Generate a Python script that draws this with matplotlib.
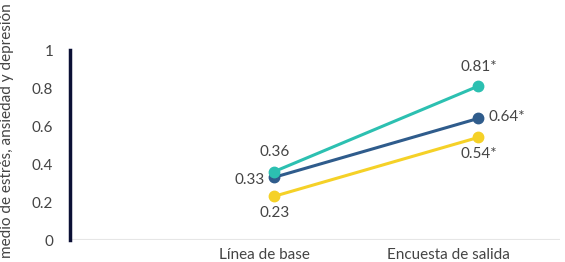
import matplotlib.pyplot as plt

plt.rcParams['font.family'] = ['Lato', 'DejaVu Sans']

# datos
categorias = ['Línea de base', 'Encuesta de salida']
estres = [0.36, 0.81]
ansiedad = [0.33, 0.64]
depresion = [0.23, 0.54]
etiquetas_estres = ['0.36', '0.81*']
etiquetas_ansiedad = ['0.33', '0.64*']
etiquetas_depresion = ['0.23', '0.54*']

x = [1, 2]
txt = '#444444'

fig = plt.figure(figsize=(5.65, 2.62), dpi=100)
ax = fig.add_axes([70/565, 22/262, 490/565, 190/262])

ax.plot(x, depresion, color='#F5D127', lw=2.2, marker='o', ms=7.5, zorder=3)
ax.plot(x, ansiedad, color='#2F5C8C', lw=2.2, marker='o', ms=7.5, zorder=4)
ax.plot(x, estres, color='#2CC0B1', lw=2.2, marker='o', ms=7.5, zorder=5)

kw = dict(textcoords='offset points', fontsize=11, color=txt, va='center')
ax.annotate(etiquetas_estres[0], (x[0], estres[0]), xytext=(0, 14), ha='center', **kw)
ax.annotate(etiquetas_ansiedad[0], (x[0], ansiedad[0]), xytext=(-7, -2), ha='right', **kw)
ax.annotate(etiquetas_depresion[0], (x[0], depresion[0]), xytext=(0, -12), ha='center', **kw)
ax.annotate(etiquetas_estres[1], (x[1], estres[1]), xytext=(0, 14), ha='center', **kw)
ax.annotate(etiquetas_ansiedad[1], (x[1], ansiedad[1]), xytext=(7, 1), ha='left', **kw)
ax.annotate(etiquetas_depresion[1], (x[1], depresion[1]), xytext=(0, -12), ha='center', **kw)

ax.set_xlim(0, 2.4)
ax.set_ylim(0, 1)
# las etiquetas del eje x no quedan justo bajo los puntos en el original
ax.set_xticks([0.951, 1.854])
ax.set_xticklabels(categorias)
ax.set_yticks([0, 0.2, 0.4, 0.6, 0.8, 1])
ax.set_yticklabels(['0', '0.2', '0.4', '0.6', '0.8', '1'])
ax.tick_params(length=0, labelsize=11, labelcolor=txt)
ax.tick_params(axis='y', pad=12)
ax.tick_params(axis='x', pad=6)

for s in ['top', 'right', 'bottom']:
    ax.spines[s].set_visible(False)
ax.spines['left'].set_color('#0B1035')
ax.spines['left'].set_linewidth(2.5)
ax.axhline(0, color='#E6E6E6', lw=1.5, zorder=1)

fig.text(0.012, 4/262, 'medio de estrés, ansiedad y depresión', rotation=90,
         ha='center', va='bottom', fontsize=11, color=txt)

fig.savefig('out.png', dpi=100)
